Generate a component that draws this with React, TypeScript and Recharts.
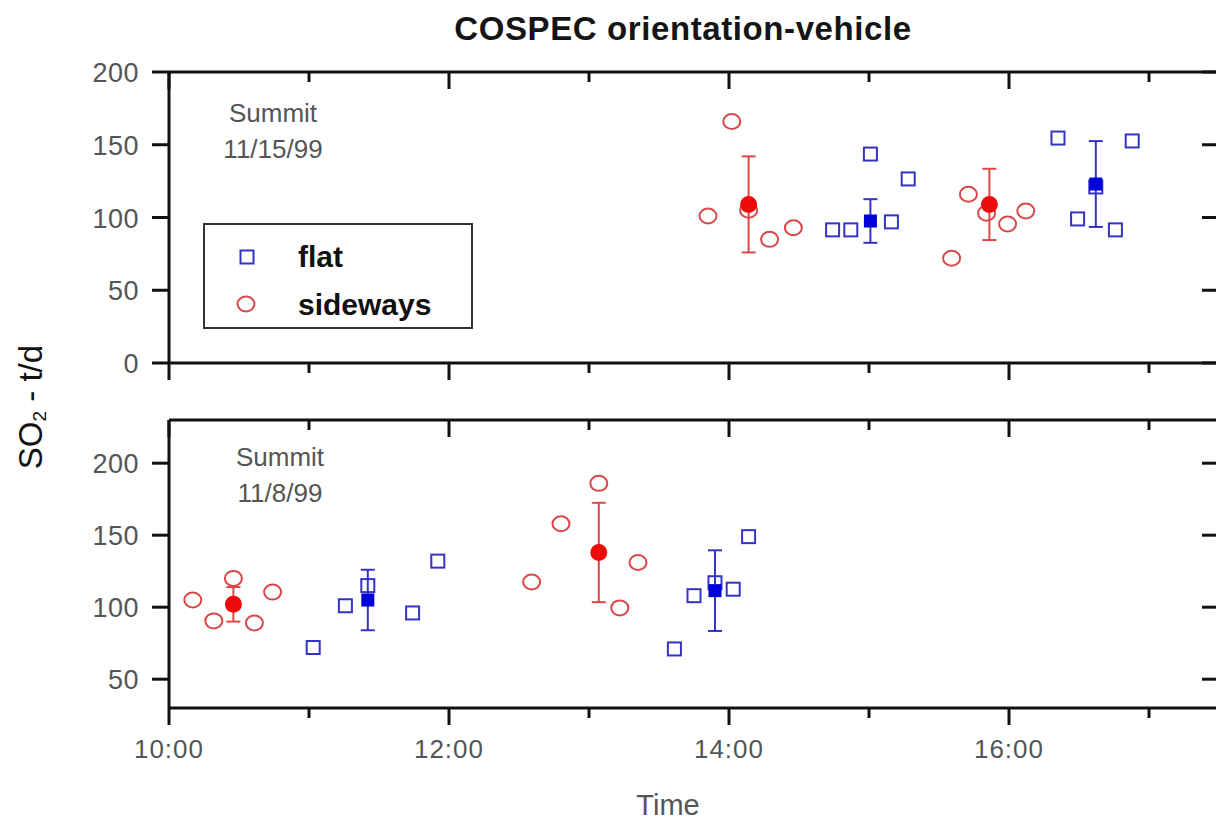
import React from 'react';
import { ScatterChart, Scatter, XAxis, YAxis, ErrorBar } from 'recharts';

// ---------- data ----------
const X_TICKS = [10, 11, 12, 13, 14, 15, 16, 17];
const X_DOMAIN: [number, number] = [10, 17.5];
const TOP_Y_TICKS = [0, 50, 100, 150, 200];
const TOP_Y_DOMAIN: [number, number] = [0, 200];
const BOTTOM_Y_TICKS = [50, 100, 150, 200];
const BOTTOM_Y_DOMAIN: [number, number] = [30, 230];

const TITLE = 'COSPEC orientation-vehicle';
const X_LABEL = 'Time';
const SERIES_FLAT = 'flat';
const SERIES_SIDEWAYS = 'sideways';
const TOP_NOTE = ['Summit', '11/15/99'];
const BOTTOM_NOTE = ['Summit', '11/8/99'];

// 11/15/99 (top panel)
const flat1115 = [
  { t: 14.74, v: 91.5 }, { t: 14.87, v: 91.5 }, { t: 15.01, v: 143.6 }, { t: 15.16, v: 97 },
  { t: 15.28, v: 126.5 }, { t: 16.35, v: 154.6 }, { t: 16.49, v: 99 }, { t: 16.62, v: 121 },
  { t: 16.76, v: 91.5 }, { t: 16.88, v: 152.6 },
];
const sideways1115 = [
  { t: 13.85, v: 101 }, { t: 14.02, v: 166 }, { t: 14.14, v: 105 }, { t: 14.29, v: 85 },
  { t: 14.46, v: 93 }, { t: 15.59, v: 72 }, { t: 15.71, v: 116 }, { t: 15.84, v: 103 },
  { t: 15.99, v: 95.5 }, { t: 16.12, v: 104.5 },
];
const flatMean1115 = [{ t: 15.01, v: 97.6, err: 15 }, { t: 16.62, v: 123, err: 29.5 }];
const sidewaysMean1115 = [{ t: 14.14, v: 109, err: 33 }, { t: 15.86, v: 109, err: 24.5 }];

// 11/8/99 (bottom panel)
const flat1108 = [
  { t: 11.03, v: 72 }, { t: 11.26, v: 101 }, { t: 11.42, v: 115 }, { t: 11.74, v: 96 },
  { t: 11.92, v: 132 }, { t: 13.61, v: 71 }, { t: 13.75, v: 108 }, { t: 13.9, v: 117 },
  { t: 14.03, v: 112.5 }, { t: 14.14, v: 149 },
];
const sideways1108 = [
  { t: 10.17, v: 105 }, { t: 10.32, v: 90.5 }, { t: 10.46, v: 120 }, { t: 10.61, v: 89 },
  { t: 10.74, v: 110.5 }, { t: 12.59, v: 117.5 }, { t: 12.8, v: 158 }, { t: 13.07, v: 186 },
  { t: 13.22, v: 99.5 }, { t: 13.35, v: 131 },
];
const flatMean1108 = [{ t: 11.42, v: 105, err: 21 }, { t: 13.9, v: 111.5, err: 28 }];
const sidewaysMean1108 = [{ t: 10.46, v: 102, err: 12 }, { t: 13.07, v: 138, err: 34.5 }];

// ---------- styles ----------
const FONT = '"Liberation Sans", Arial, Helvetica, sans-serif';
const BLUE = '#3434c4';
const BLUE_FILL = '#0000d8';
const RED = '#d94848';
const RED_FILL = '#ee0a0a';
const AXIS = '#111';
const TICK_TEXT = '#555';
const MAJOR = 17;
const MINOR = 10;

const fmtTime = (h: number) => `${h}:00`;

const OpenSquare = (p: any) =>
  p.cx == null ? <g /> : (
    <rect x={p.cx - 6.5} y={p.cy - 6.5} width={13} height={13} fill="none" stroke={BLUE} strokeWidth={2} />
  );
const OpenCircle = (p: any) =>
  p.cx == null ? <g /> : <ellipse cx={p.cx} cy={p.cy} rx={8.5} ry={7.5} fill="none" stroke={RED} strokeWidth={2} />;
const FilledSquare = (p: any) =>
  p.cx == null ? <g /> : <rect x={p.cx - 6.5} y={p.cy - 6.5} width={13} height={13} fill={BLUE_FILL} />;
const FilledCircle = (p: any) =>
  p.cx == null ? <g /> : <circle cx={p.cx} cy={p.cy} r={8.5} fill={RED_FILL} />;

const BottomTick = (props: any, showLabel: boolean) => {
  const { x, y, payload } = props;
  const major = payload.value % 2 === 0;
  return (
    <g>
      <line x1={x} y1={y} x2={x} y2={y + (major ? MAJOR : MINOR)} stroke={AXIS} strokeWidth={3} />
      {showLabel && major ? (
        <text x={x} y={y + 41} textAnchor="middle" dominantBaseline="central" fontSize={26}
          letterSpacing={1} fontFamily={FONT} fill={TICK_TEXT}>{fmtTime(payload.value)}</text>
      ) : null}
    </g>
  );
};
const TopTick = (props: any) => {
  const { x, y, payload } = props;
  const major = payload.value % 2 === 0;
  return <line x1={x} y1={y} x2={x} y2={y + (major ? MAJOR : MINOR)} stroke={AXIS} strokeWidth={3} />;
};
const LeftTick = (props: any) => {
  const { x, y, payload } = props;
  return (
    <g>
      <line x1={x} y1={y} x2={x - MAJOR} y2={y} stroke={AXIS} strokeWidth={3} />
      <text x={x - 30} y={y + 1} textAnchor="end" dominantBaseline="central" fontSize={27}
        letterSpacing={0.5} fontFamily={FONT} fill={TICK_TEXT}>{payload.value}</text>
    </g>
  );
};
const RightTick = (props: any) => {
  const { x, y } = props;
  return <line x1={x} y1={y} x2={x - MAJOR} y2={y} stroke={AXIS} strokeWidth={3} />;
};

type PanelProps = {
  top: number;
  height: number;
  margin: { top: number; right: number; bottom: number; left: number };
  yDomain: [number, number];
  yTicks: number[];
  flat: any[];
  sideways: any[];
  flatMean: any[];
  sidewaysMean: any[];
  showXLabels: boolean;
};

function Panel(p: PanelProps) {
  return (
    <div style={{ position: 'absolute', left: 0, top: p.top }}>
      <ScatterChart width={1240} height={p.height} margin={p.margin}>
        <XAxis xAxisId="b" dataKey="t" type="number" orientation="bottom" domain={X_DOMAIN}
          ticks={X_TICKS} interval={0} allowDataOverflow height={60} tickSize={0} tickMargin={0}
          axisLine={{ stroke: AXIS, strokeWidth: 3 }} tickLine={false}
          tick={(props: any) => BottomTick(props, p.showXLabels)} />
        <XAxis xAxisId="t" dataKey="t" type="number" orientation="top" domain={X_DOMAIN}
          ticks={X_TICKS} interval={0} allowDataOverflow height={1} tickSize={0} tickMargin={0}
          axisLine={{ stroke: AXIS, strokeWidth: 3 }} tickLine={false} tick={TopTick} />
        <YAxis yAxisId="l" dataKey="v" type="number" orientation="left" domain={p.yDomain}
          ticks={p.yTicks} interval={0} allowDataOverflow width={60} tickSize={0} tickMargin={0}
          axisLine={{ stroke: AXIS, strokeWidth: 3 }} tickLine={false} tick={LeftTick} />
        <YAxis yAxisId="r" dataKey="v" type="number" orientation="right" domain={p.yDomain}
          ticks={p.yTicks} interval={0} allowDataOverflow width={1} tickSize={0} tickMargin={0}
          axisLine={{ stroke: AXIS, strokeWidth: 3 }} tickLine={false} tick={RightTick} />
        <Scatter name={SERIES_SIDEWAYS} data={p.sideways} xAxisId="b" yAxisId="l"
          shape={OpenCircle} isAnimationActive={false} />
        <Scatter name={SERIES_FLAT} data={p.flat} xAxisId="b" yAxisId="l"
          shape={OpenSquare} isAnimationActive={false} />
        <Scatter name={SERIES_SIDEWAYS + ' mean'} data={p.sidewaysMean} xAxisId="b" yAxisId="l"
          shape={FilledCircle} isAnimationActive={false}>
          <ErrorBar dataKey="err" direction="y" width={7} stroke={RED} strokeWidth={2} isAnimationActive={false} />
        </Scatter>
        <Scatter name={SERIES_FLAT + ' mean'} data={p.flatMean} xAxisId="b" yAxisId="l"
          shape={FilledSquare} isAnimationActive={false}>
          <ErrorBar dataKey="err" direction="y" width={7} stroke={BLUE} strokeWidth={2} isAnimationActive={false} />
        </Scatter>
      </ScatterChart>
    </div>
  );
}

export default function App() {
  return (
    <div style={{ position: 'fixed', left: 0, top: 0, width: 1216, height: 823, overflow: 'hidden', background: '#fff' }}>
      <Panel top={0} height={440} margin={{ top: 71, right: 20, bottom: 17, left: 109 }}
        yDomain={TOP_Y_DOMAIN} yTicks={TOP_Y_TICKS} flat={flat1115} sideways={sideways1115}
        flatMean={flatMean1115} sidewaysMean={sidewaysMean1115} showXLabels={false} />
      <Panel top={380} height={443} margin={{ top: 39, right: 20, bottom: 55, left: 109 }}
        yDomain={BOTTOM_Y_DOMAIN} yTicks={BOTTOM_Y_TICKS} flat={flat1108} sideways={sideways1108}
        flatMean={flatMean1108} sidewaysMean={sidewaysMean1108} showXLabels={true} />
      <svg width={1216} height={823} style={{ position: 'absolute', left: 0, top: 0, pointerEvents: 'none' }}
        fontFamily={FONT}>
        <text x={683} y={28} textAnchor="middle" dominantBaseline="central" fontSize={33}
          letterSpacing={0.6} fontWeight="bold" fill="#151515">{TITLE}</text>
        <text transform="translate(30,407) rotate(-90)" textAnchor="middle" dominantBaseline="central"
          fontSize={33} fill="#111">
          SO<tspan fontSize={19} dy={9}>2</tspan><tspan dy={-9}> - t/d</tspan>
        </text>
        <text x={668} y={805} textAnchor="middle" dominantBaseline="central" fontSize={29} fill={TICK_TEXT}>
          {X_LABEL}
        </text>
        <text x={273} y={113} textAnchor="middle" dominantBaseline="central" fontSize={26} fill={TICK_TEXT}>{TOP_NOTE[0]}</text>
        <text x={273} y={149} textAnchor="middle" dominantBaseline="central" fontSize={26} fill={TICK_TEXT}>{TOP_NOTE[1]}</text>
        <text x={280} y={457} textAnchor="middle" dominantBaseline="central" fontSize={26} fill={TICK_TEXT}>{BOTTOM_NOTE[0]}</text>
        <text x={280} y={493} textAnchor="middle" dominantBaseline="central" fontSize={26} fill={TICK_TEXT}>{BOTTOM_NOTE[1]}</text>
        <rect x={204} y={224} width={268} height={104} fill="#fff" stroke="#333" strokeWidth={2} />
        <rect x={240.5} y={250.5} width={13} height={13} fill="none" stroke={BLUE} strokeWidth={2} />
        <ellipse cx={246} cy={304} rx={8.5} ry={7.5} fill="none" stroke={RED} strokeWidth={2} />
        <text x={298} y={256} dominantBaseline="central" fontSize={30} fontWeight="bold" fill="#111">{SERIES_FLAT}</text>
        <text x={298} y={304} dominantBaseline="central" fontSize={30} fontWeight="bold" fill="#111">{SERIES_SIDEWAYS}</text>
      </svg>
    </div>
  );
}
